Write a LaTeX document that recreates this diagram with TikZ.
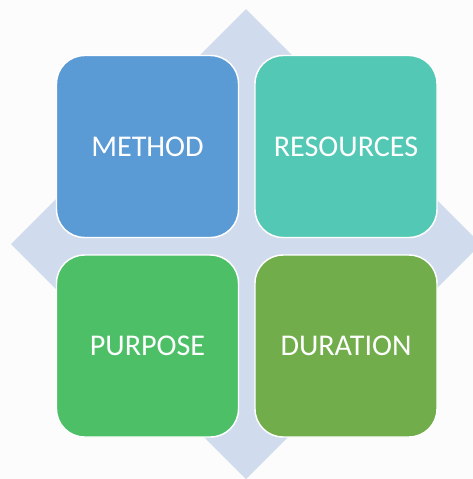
\documentclass[tikz,border=0pt]{standalone}
\usepackage{fontspec}
\newfontfamily\tilefont{Carlito}
\usepackage{xcolor}
\usepackage{tikz}
\definecolor{pagebg}{HTML}{FCFCFD}
\definecolor{diamondblue}{HTML}{D0DCEE}
\definecolor{methodblue}{HTML}{5B9BD5}
\definecolor{resourceteal}{HTML}{53C8B5}
\definecolor{purposegreen}{HTML}{4CBF67}
\definecolor{durationgreen}{HTML}{71AD4B}
\tikzset{
  tile/.style={draw=white, line width=1.1pt, rounded corners=21pt,
    minimum width=136.5pt, minimum height=136.5pt, inner sep=0pt,
    text=white, font=\tilefont\fontsize{22.6pt}{25pt}\selectfont}
}

\begin{document}
\begin{tikzpicture}[x=0.75pt,y=-0.75pt]
  \useasboundingbox (0,0) rectangle (473,479);
  \fill[pagebg] (0,0) rectangle (473,479);
  % diamond behind the tiles
  \fill[diamondblue] (246,9) -- (481,244) -- (246,479) -- (11,244) -- cycle;
  \foreach \x/\y/\name/\col/\lab in {147.5/146.5/method/methodblue/METHOD,
      346/146.5/resources/resourceteal/RESOURCES,
      147.5/346/purpose/purposegreen/PURPOSE,
      346/346/duration/durationgreen/DURATION}{
    \node[tile, fill=\col] (\name) at (\x,\y) {\lab};
  }
\end{tikzpicture}
\end{document}
